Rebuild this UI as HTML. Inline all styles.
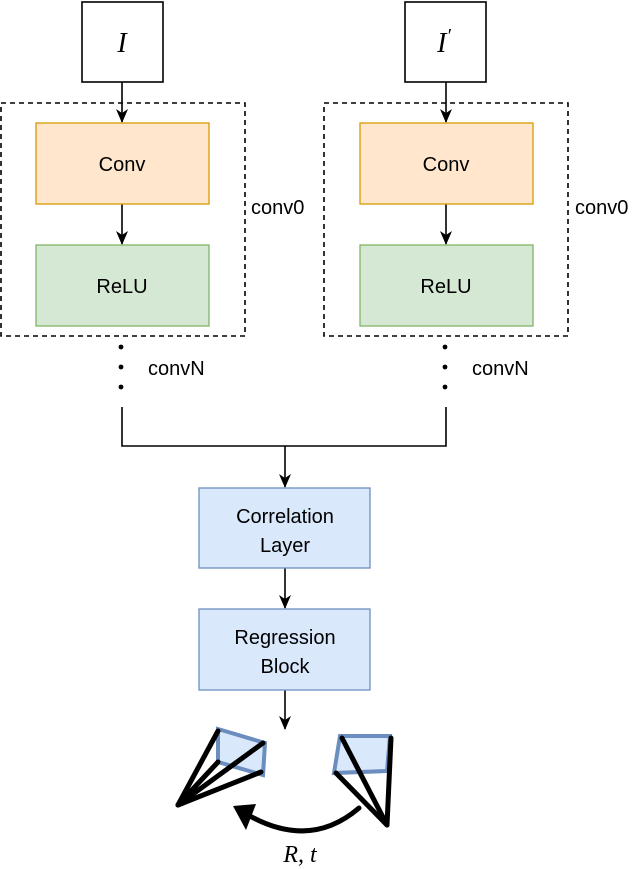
<!DOCTYPE html>
<html><head><meta charset="utf-8"><style>body{margin:0;background:#fff}svg{display:block}</style></head><body>
<svg width="640" height="869" viewBox="0 0 640 869" xmlns="http://www.w3.org/2000/svg" font-family="Liberation Sans, sans-serif">
<defs><marker id="a" markerWidth="14" markerHeight="12" refX="13" refY="6" orient="auto" markerUnits="userSpaceOnUse"><path d="M0,0 L14,6 L0,12 L4,6 Z" fill="#000"/></marker></defs>
<g fill="none" stroke="#000" stroke-width="1.6">
<rect x="82" y="2" width="81" height="80" fill="#fff"/>
<rect x="405" y="2" width="81" height="80" fill="#fff"/>
<rect x="1" y="103" width="244" height="233" stroke-dasharray="5,4"/>
<rect x="324" y="103" width="244" height="233" stroke-dasharray="5,4"/>
<line x1="122" y1="82" x2="122" y2="122" marker-end="url(#a)"/>
<line x1="446" y1="82" x2="446" y2="122" marker-end="url(#a)"/>
<line x1="122" y1="204" x2="122" y2="244" marker-end="url(#a)"/>
<line x1="446" y1="204" x2="446" y2="244" marker-end="url(#a)"/>
<polyline points="122,407 122,446 446,446 446,407"/>
<line x1="285" y1="446" x2="285" y2="487" marker-end="url(#a)"/>
<line x1="285" y1="568" x2="285" y2="608" marker-end="url(#a)"/>
<line x1="285" y1="690" x2="285" y2="729" marker-end="url(#a)"/>
</g>
<rect x="36" y="123" width="173" height="81" fill="#ffe6cc" stroke="#d79b00" stroke-width="1.3"/>
<rect x="360" y="123" width="173" height="81" fill="#ffe6cc" stroke="#d79b00" stroke-width="1.3"/>
<rect x="36" y="245" width="173" height="81" fill="#d5e8d4" stroke="#82b366" stroke-width="1.3"/>
<rect x="360" y="245" width="173" height="81" fill="#d5e8d4" stroke="#82b366" stroke-width="1.3"/>
<rect x="199" y="488" width="171" height="80" fill="#dae8fc" stroke="#6c8ebf" stroke-width="1.3"/>
<rect x="199" y="609" width="171" height="81" fill="#dae8fc" stroke="#6c8ebf" stroke-width="1.3"/>
<g fill="#000"><circle cx="121" cy="347" r="2.4"/><circle cx="121" cy="367" r="2.4"/><circle cx="121" cy="387" r="2.4"/>
<circle cx="445" cy="347" r="2.4"/><circle cx="445" cy="367" r="2.4"/><circle cx="445" cy="387" r="2.4"/></g>
<g font-size="20" fill="#000" text-anchor="middle">
<text x="122" y="171">Conv</text><text x="446" y="171">Conv</text>
<text x="122" y="293">ReLU</text><text x="446" y="293">ReLU</text>
<text x="285" y="523">Correlation</text><text x="285" y="552">Layer</text>
<text x="285" y="644">Regression</text><text x="285" y="673">Block</text>
</g>
<g font-size="20" fill="#000">
<text x="251" y="214">conv0</text><text x="575" y="214">conv0</text>
<text x="148" y="375">convN</text><text x="472" y="375">convN</text>
</g>
<g font-family="Liberation Serif, serif" font-style="italic" font-size="28" fill="#000" text-anchor="middle">
<text x="122" y="52">I</text><text x="444" y="52">I<tspan font-size="20" dy="-10">′</tspan></text>
<text x="300" y="862" font-size="24">R, t</text>
</g>
<polygon points="218,729 265,743 263,775 218,762" fill="#dae8fc" stroke="#6c8ebf" stroke-width="4"/>
<g stroke="#000" stroke-width="5" stroke-linecap="round" fill="none">
<line x1="178" y1="805" x2="218" y2="731"/><line x1="178" y1="805" x2="263" y2="743"/>
<line x1="178" y1="805" x2="261" y2="772"/><line x1="178" y1="805" x2="218" y2="762"/>
</g>
<polygon points="340,736 390,736 387,771 334,773" fill="#dae8fc" stroke="#6c8ebf" stroke-width="4"/>
<g stroke="#000" stroke-width="5" stroke-linecap="round" fill="none">
<line x1="387" y1="825" x2="342" y2="738"/><line x1="387" y1="825" x2="391" y2="738"/>
<line x1="387" y1="825" x2="336" y2="773"/>
<path d="M359,808 Q310,850 248,815"/>
</g>
<polygon points="233,806 256,804 246,830" fill="#000"/>
</svg>
</body></html>
